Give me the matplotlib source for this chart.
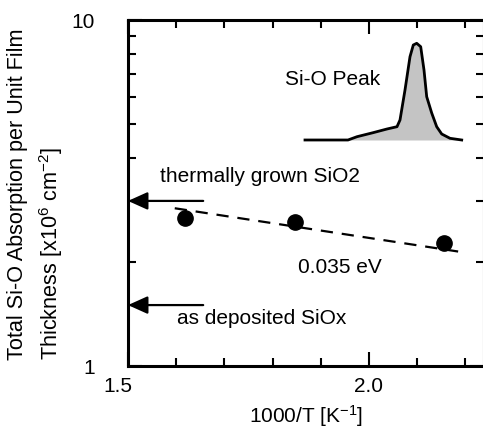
import matplotlib
matplotlib.use("Agg")
import matplotlib.pyplot as plt
from matplotlib.transforms import ScaledTranslation
from matplotlib.ticker import FixedLocator, NullFormatter

plt.rcParams['font.family'] = ['Liberation Sans', 'DejaVu Sans']
plt.rcParams['mathtext.default'] = 'regular'

# ---- data ----
meas_x = [1.618, 1.846, 2.156]          # 1000/T [1/K]
meas_y = [2.67, 2.60, 2.26]             # absorption per thickness [1e6 cm^-2]
fit_x = [1.597, 2.187]
fit_y = [2.857, 2.14]
thermal_level = 3.0
deposited_level = 1.5
arrow_start_x = 1.656

# Si-O peak inset shape (arbitrary units)
peak_x = [0, 43, 52, 68, 82, 92, 95, 100, 105, 108.3, 111.7, 115.7, 119, 121.7,
          126.7, 131.7, 136.7, 145, 156.7]
peak_y = [0, 0, 3.3, 7.3, 11, 13.3, 20, 50, 83.3, 95, 96.7, 93.3, 70, 43.3,
          27, 13.3, 6, 1.7, 0]

x_major = [1.5, 2.0]
x_major_labels = ['1.5', '2.0']
x_minor = [1.6, 1.7, 1.8, 1.9, 2.1, 2.2]
y_major = [1, 10]
y_major_labels = ['1', '10']
y_minor = [2, 3, 4, 5, 6, 7, 8, 9]

FS = 15

fig = plt.figure(figsize=(4.83, 4.34), dpi=100)
W, H = 483, 434
ax = fig.add_axes([128 / W, (H - 366) / H, (484 - 128) / W, (366 - 20) / H])

ax.set_yscale('log')
ax.set_xlim(1.5, 1.5 + (484 - 128) / 482)
ax.set_ylim(1, 10)

ax.plot(fit_x, fit_y, color='black', lw=1.6, dashes=(5.5, 4))
ax.plot(meas_x, meas_y, 'o', color='black', markersize=11)

for lvl in (thermal_level, deposited_level):
    ax.annotate('', xy=(1.5, lvl), xytext=(arrow_start_x, lvl),
                arrowprops=dict(arrowstyle='-|>,head_length=0.6,head_width=0.27',
                                lw=1.6, color='black', mutation_scale=20,
                                shrinkA=0, shrinkB=0))

ax.text(1.566, 3.52, 'thermally grown SiO2', fontsize=FS, va='center', ha='left')
ax.text(1.602, 1.376, 'as deposited SiOx', fontsize=FS, va='center', ha='left')
ax.text(1.853, 1.92, '0.035 eV', fontsize=FS, va='center', ha='left')
ax.text(1.826, 6.71, 'Si-O Peak', fontsize=FS, va='center', ha='left')

# ticks
ax.xaxis.set_major_locator(FixedLocator(x_major))
ax.set_xticklabels(x_major_labels)
ax.xaxis.set_minor_locator(FixedLocator(x_minor))
ax.xaxis.set_minor_formatter(NullFormatter())
ax.yaxis.set_major_locator(FixedLocator(y_major))
ax.set_yticklabels(y_major_labels)
ax.yaxis.set_minor_locator(FixedLocator(y_minor))
ax.yaxis.set_minor_formatter(NullFormatter())

ax.tick_params(axis='both', which='both', direction='in', top=True, right=True,
               width=1.5, labelsize=FS)
ax.tick_params(axis='both', which='major', length=10)
ax.tick_params(axis='both', which='minor', length=5.5)
ax.tick_params(axis='x', which='major', pad=8)
ax.tick_params(axis='y', which='major', pad=24)

for s in ax.spines.values():
    s.set_linewidth(2.2)

ax.set_xlabel('1000/T [K$^{-1}$]', fontsize=FS, labelpad=5)

fig.text(36 / W, (H - 360) / H,
         'Total Si-O Absorption per Unit Film\nThickness [x10$^{6}$ cm$^{-2}$]',
         rotation=90, ha='center', va='bottom', multialignment='left',
         linespacing=1.45, fontsize=15.6)

# shift "1.5" label slightly left
lbl = ax.get_xticklabels()[0]
lbl.set_transform(lbl.get_transform() + ScaledTranslation(-10 / 100, 0, fig.dpi_scale_trans))

# inset peak
iax = fig.add_axes([305 / W, (H - 140) / H, 157 / W, 97 / H])
iax.set_xlim(0, 157)
iax.set_ylim(0, 97)
iax.axis('off')
iax.fill_between(peak_x, peak_y, 0, color='#c4c4c4', lw=0)
iax.plot(peak_x, peak_y, color='black', lw=2.0, clip_on=False,
         solid_joinstyle='round')

fig.savefig('out.png', dpi=100)
